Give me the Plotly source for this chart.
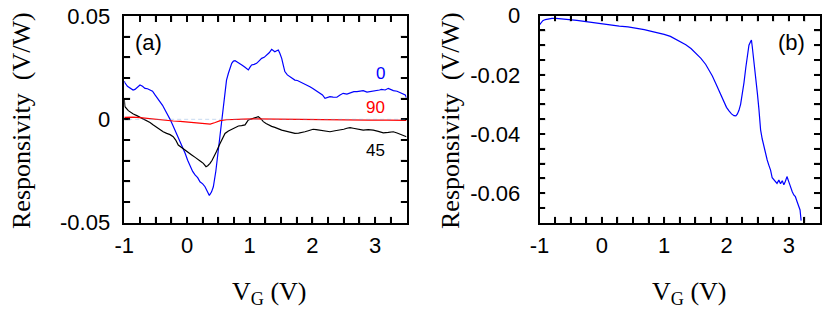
import plotly.graph_objects as go

# ---------------- Data: panel (a) ----------------
a0_x = [-1.0, -0.99, -0.95, -0.91, -0.86, -0.83, -0.79, -0.75, -0.71, -0.67, -0.63, -0.59, -0.55, -0.51, -0.47,
        -0.43, -0.39, -0.35, -0.31, -0.27, -0.23, -0.19, -0.15, -0.11, -0.07, -0.03, 0.01, 0.05, 0.09, 0.128,
        0.17, 0.207, 0.25, 0.287, 0.32, 0.356, 0.39, 0.42, 0.46, 0.50, 0.53, 0.553, 0.58, 0.606, 0.63, 0.66,
        0.69, 0.713, 0.74, 0.766, 0.80, 0.845, 0.88, 0.925, 0.955, 0.978, 1.00, 1.03, 1.07, 1.11, 1.15, 1.19,
        1.23, 1.27, 1.31, 1.35, 1.38, 1.40, 1.43, 1.456, 1.48, 1.51, 1.535, 1.56, 1.60, 1.64, 1.68, 1.72, 1.76,
        1.80, 1.84, 1.88, 1.92, 1.96, 2.00, 2.04, 2.08, 2.12, 2.16, 2.20, 2.24, 2.28, 2.33, 2.39, 2.44, 2.49,
        2.55, 2.60, 2.66, 2.71, 2.76, 2.81, 2.87, 2.92, 2.97, 3.03, 3.07, 3.10, 3.16, 3.21, 3.25, 3.29, 3.35,
        3.40, 3.45, 3.48, 3.5]
a0_y = [0.0185, 0.0177, 0.0160, 0.0150, 0.0142, 0.0145, 0.0155, 0.0166, 0.0160, 0.0150, 0.0148, 0.0142, 0.0136,
        0.0118, 0.0102, 0.0085, 0.0068, 0.0045, 0.0024, 0.0000, -0.0026, -0.0052, -0.0080, -0.0108, -0.0136,
        -0.0164, -0.0198, -0.0229, -0.0252, -0.0269, -0.0282, -0.0302, -0.0312, -0.0326, -0.0345, -0.0368,
        -0.0352, -0.0326, -0.0250, -0.0148, -0.0080, -0.0019, 0.0060, 0.0142, 0.0190, 0.0223, 0.0255, 0.0271,
        0.0282, 0.0284, 0.0278, 0.0271, 0.0262, 0.0252, 0.0246, 0.0239, 0.0250, 0.0263, 0.0266, 0.0271, 0.0283,
        0.0295, 0.0300, 0.0311, 0.0322, 0.0339, 0.0330, 0.0327, 0.0332, 0.0335, 0.0320, 0.0295, 0.0262, 0.0231,
        0.0215, 0.0206, 0.0200, 0.0190, 0.0188, 0.0182, 0.0180, 0.0174, 0.0168, 0.0158, 0.0150, 0.0142, 0.0134,
        0.0126, 0.0118, 0.0102, 0.0106, 0.0110, 0.0108, 0.0107, 0.0118, 0.0126, 0.0122, 0.0129, 0.0134, 0.0134,
        0.0138, 0.0139, 0.0132, 0.0134, 0.0136, 0.0139, 0.0142, 0.0145, 0.0142, 0.0150, 0.0145, 0.0139, 0.0136,
        0.0129, 0.0126, 0.0118, 0.0105]

a45_x = [-1.0, -0.99, -0.936, -0.90, -0.856, -0.80, -0.75, -0.70, -0.64, -0.59, -0.537, -0.48, -0.43, -0.38,
         -0.324, -0.27, -0.22, -0.18, -0.139, -0.09, -0.032, 0.02, 0.075, 0.13, 0.18, 0.22, 0.26, 0.303, 0.33,
         0.367, 0.40, 0.435, 0.47, 0.515, 0.56, 0.606, 0.66, 0.713, 0.77, 0.82, 0.87, 0.925, 0.978, 1.02, 1.057,
         1.10, 1.137, 1.18, 1.217, 1.26, 1.297, 1.35, 1.40, 1.45, 1.51, 1.56, 1.615, 1.67, 1.72, 1.78, 1.83,
         1.88, 1.935, 2.01, 2.06, 2.12, 2.20, 2.28, 2.36, 2.44, 2.50, 2.55, 2.60, 2.65, 2.73, 2.81, 2.89, 2.97,
         3.05, 3.13, 3.21, 3.29, 3.35, 3.40, 3.45, 3.5]
a45_y = [0.0094, 0.0061, 0.0042, 0.0034, 0.0026, 0.0018, 0.0010, 0.0004, -0.0007, -0.0015, -0.0027, -0.0040,
         -0.0052, -0.0060, -0.0068, -0.0074, -0.0084, -0.0100, -0.0124, -0.0134, -0.0148, -0.0158, -0.0172,
         -0.0184, -0.0197, -0.0204, -0.0213, -0.0229, -0.0224, -0.0213, -0.0198, -0.0180, -0.0156, -0.0124,
         -0.0096, -0.0068, -0.0056, -0.0048, -0.0040, -0.0032, -0.0030, -0.0027, -0.0003, 0.0002, 0.0005,
         0.0010, 0.0013, 0.0002, -0.0011, -0.0020, -0.0027, -0.0034, -0.0039, -0.0046, -0.0052, -0.0056,
         -0.0060, -0.0064, -0.0068, -0.0067, -0.0065, -0.0060, -0.0055, -0.0048, -0.0050, -0.0052, -0.0056,
         -0.0060, -0.0055, -0.0052, -0.0048, -0.0043, -0.0040, -0.0043, -0.0048, -0.0052, -0.0050, -0.0052,
         -0.0058, -0.0065, -0.0063, -0.0060, -0.0066, -0.0071, -0.0076, -0.0084]

a90_x = [-1.0, -0.86, -0.75, -0.64, -0.53, -0.43, -0.32, -0.22, -0.11, 0.0, 0.1, 0.2, 0.3, 0.37, 0.45, 0.53,
         0.63, 0.74, 0.9, 1.06, 1.25, 1.45, 1.7, 2.0, 2.3, 2.6, 2.9, 3.2, 3.5]
a90_y = [0.0010, 0.0011, 0.0008, 0.0004, 0.0001, -0.0003, -0.0005, -0.0008, -0.0010, -0.0013, -0.0014,
         -0.0016, -0.0019, -0.0023, -0.0015, -0.0006, -0.0002, 0.0000, 0.0001, 0.0002, 0.0001, 0.0000,
         -0.0001, -0.0002, -0.0002, -0.0003, -0.0004, -0.0004, -0.0005]

# ---------------- Data: panel (b) ----------------
b_x = [-1.0, -0.973, -0.947, -0.907, -0.867, -0.80, -0.733, -0.62, -0.52, -0.40, -0.253, -0.12, 0.0, 0.14,
       0.28, 0.42, 0.547, 0.68, 0.813, 0.91, 1.0, 1.10, 1.187, 1.27, 1.347, 1.43, 1.507, 1.59, 1.667, 1.72,
       1.773, 1.83, 1.88, 1.92, 1.96, 2.00, 2.04, 2.08, 2.12, 2.15, 2.173, 2.20, 2.227, 2.255, 2.28, 2.31,
       2.333, 2.36, 2.387, 2.40, 2.413, 2.44, 2.467, 2.495, 2.52, 2.547, 2.573, 2.60, 2.627, 2.653, 2.68,
       2.707, 2.733, 2.76, 2.785, 2.81, 2.84, 2.867, 2.895, 2.92, 2.945, 2.97, 3.0, 3.027, 3.055, 3.08,
       3.105, 3.133, 3.16, 3.18, 3.197]
b_y = [-0.0031, -0.0022, -0.0017, -0.0013, -0.0011, -0.0009, -0.0009, -0.0011, -0.0012, -0.0016, -0.0020,
       -0.0024, -0.0028, -0.0031, -0.0035, -0.0038, -0.0042, -0.0047, -0.0054, -0.0058, -0.0063, -0.0070,
       -0.0079, -0.0088, -0.0098, -0.0111, -0.0126, -0.0144, -0.0165, -0.0184, -0.0204, -0.0230, -0.0255,
       -0.0275, -0.0294, -0.0310, -0.0322, -0.0332, -0.0338, -0.0339, -0.0333, -0.0320, -0.0299, -0.0268,
       -0.0227, -0.0175, -0.0132, -0.0100, -0.0087, -0.0082, -0.0104, -0.0150, -0.0204, -0.0262, -0.0316,
       -0.0386, -0.0417, -0.0443, -0.0461, -0.0488, -0.0506, -0.0522, -0.0548, -0.0556, -0.0562, -0.0567,
       -0.0556, -0.0568, -0.0558, -0.0572, -0.0560, -0.0544, -0.0562, -0.0583, -0.0595, -0.0606, -0.0612,
       -0.0629, -0.0645, -0.0657, -0.0693]

# tick positions (every minor step) and labels (blank where unlabeled)
x_tickvals = [-1 + 0.25 * i for i in range(19)]
x_ticktext = ["-1", "", "", "", "0", "", "", "", "1", "", "", "", "2", "", "", "", "3", "", ""]
a_ytickvals = [round(-0.05 + 0.01 * i, 3) for i in range(11)]
a_yticktext = ["-0.05", "", "", "", "", "0", "", "", "", "", "0.05"]
b_ytickvals = [round(-0.07 + 0.005 * i, 4) for i in range(15)]
b_yticktext = ["", "", "-0.06", "", "", "", "-0.04", "", "", "", "-0.02", "", "", "", "0"]

# page offset (browser default body margin) compensation, in px
OX, OY = 8, 8
W, H = 830, 319

def px_x(p):
    return (p - OX) / W

def px_y(p):
    return 1 - (p - OY) / H

fig = go.Figure()
lw = 1.2
fig.add_trace(go.Scatter(x=a0_x, y=a0_y, mode="lines", line=dict(color="#0000ff", width=lw),
                         xaxis="x", yaxis="y", showlegend=False))
fig.add_trace(go.Scatter(x=a45_x, y=a45_y, mode="lines", line=dict(color="#000000", width=lw),
                         xaxis="x", yaxis="y", showlegend=False))
fig.add_trace(go.Scatter(x=a90_x, y=a90_y, mode="lines", line=dict(color="#ff0000", width=lw),
                         xaxis="x", yaxis="y", showlegend=False))
fig.add_trace(go.Scatter(x=b_x, y=b_y, mode="lines", line=dict(color="#0000ff", width=lw),
                         xaxis="x2", yaxis="y2", showlegend=False))

tickfont = dict(family="Liberation Sans, Arial, sans-serif", size=22, color="black")
common = dict(showline=True, linecolor="#000000", linewidth=1.5, mirror="ticks", ticks="inside",
              ticklen=6, tickwidth=2, tickcolor="#000000", showgrid=False, zeroline=False,
              tickfont=tickfont, fixedrange=True, automargin=False, tickmode="array",
              layer="above traces", visible=True, ticklabeloverflow="allow")

dom_a_x = [px_x(124.3), px_x(406.5)]
dom_a_y = [px_y(222.7), px_y(16)]
dom_b_x = [px_x(539.5), px_x(820)]
dom_b_y = [px_y(222.7), px_y(15.7)]

fig.update_layout(
    template="simple_white",
    width=W, height=H, margin=dict(l=0, r=0, t=0, b=0, autoexpand=False),
    paper_bgcolor="white", plot_bgcolor="white",
    xaxis=dict(domain=dom_a_x, range=[-1, 3.5], anchor="y",
               tickvals=x_tickvals, ticktext=x_ticktext, ticklabelstandoff=2, **common),
    yaxis=dict(domain=dom_a_y, range=[-0.05, 0.05], anchor="x",
               tickvals=a_ytickvals, ticktext=a_yticktext, ticklabelstandoff=8, **common),
    xaxis2=dict(domain=dom_b_x, range=[-1, 3.5], anchor="y2",
                tickvals=x_tickvals, ticktext=x_ticktext, ticklabelstandoff=2, **common),
    yaxis2=dict(domain=dom_b_y, range=[-0.07, 0], anchor="x2",
                tickvals=b_ytickvals, ticktext=b_yticktext, ticklabelstandoff=13, **common),
)

# inside tick marks on all four sides, placed through the axes' own scales
TL = 6.0  # tick length in px
tick_line = dict(color="black", width=2)
for xa, ya, dx, dy, yvals in (("x", "y", dom_a_x, dom_a_y, a_ytickvals),
                              ("x2", "y2", dom_b_x, dom_b_y, b_ytickvals)):
    fx = TL / ((dx[1] - dx[0]) * W)
    fy = TL / ((dy[1] - dy[0]) * H)
    for v in x_tickvals[1:-1]:
        fig.add_shape(type="line", xref=xa, yref=ya + " domain", x0=v, x1=v, y0=0, y1=fy,
                      line=tick_line, layer="above")
        fig.add_shape(type="line", xref=xa, yref=ya + " domain", x0=v, x1=v, y0=1 - fy, y1=1,
                      line=tick_line, layer="above")
    for v in yvals[1:-1]:
        fig.add_shape(type="line", xref=xa + " domain", yref=ya, x0=0, x1=fx, y0=v, y1=v,
                      line=tick_line, layer="above")
        fig.add_shape(type="line", xref=xa + " domain", yref=ya, x0=1 - fx, x1=1, y0=v, y1=v,
                      line=tick_line, layer="above")

# dashed zero line in panel (a)
fig.add_shape(type="line", xref="x", yref="y", x0=-1.05, x1=3.5, y0=0, y1=0,
              line=dict(color="#6b9bd6", width=1.2, dash="4px,3px"))

serif = dict(family="Liberation Serif, Times New Roman, serif", size=26, color="black")
sans = "Liberation Sans, Arial, sans-serif"
annots = [
    dict(text="Responsivity  (V/W)", x=px_x(22), y=px_y(121), xref="paper", yref="paper",
         textangle=-90, showarrow=False, font=serif, xanchor="center", yanchor="middle"),
    dict(text="Responsivity  (V/W)", x=px_x(451), y=px_y(121), xref="paper", yref="paper",
         textangle=-90, showarrow=False, font=serif, xanchor="center", yanchor="middle"),
    dict(text="V<sub>G</sub> (V)", x=px_x(269), y=px_y(293), xref="paper", yref="paper",
         showarrow=False, font=serif, xanchor="center", yanchor="middle"),
    dict(text="V<sub>G</sub> (V)", x=px_x(689), y=px_y(293), xref="paper", yref="paper",
         showarrow=False, font=serif, xanchor="center", yanchor="middle"),
    dict(text="(a)", x=-0.622, y=0.037, xref="x", yref="y", showarrow=False,
         font=dict(family=sans, size=22, color="black")),
    dict(text="(b)", x=3.048, y=-0.0092, xref="x2", yref="y2", showarrow=False,
         font=dict(family=sans, size=22, color="black")),
    dict(text="0", x=3.078, y=0.022, xref="x", yref="y", showarrow=False,
         font=dict(family=sans, size=17, color="#0000ff")),
    dict(text="90", x=3.0, y=0.0057, xref="x", yref="y", showarrow=False,
         font=dict(family=sans, size=17, color="#ff0000")),
    dict(text="45", x=3.0, y=-0.0153, xref="x", yref="y", showarrow=False,
         font=dict(family=sans, size=17, color="#000000")),
]
fig.update_layout(annotations=annots)

fig.write_html("out.html")
